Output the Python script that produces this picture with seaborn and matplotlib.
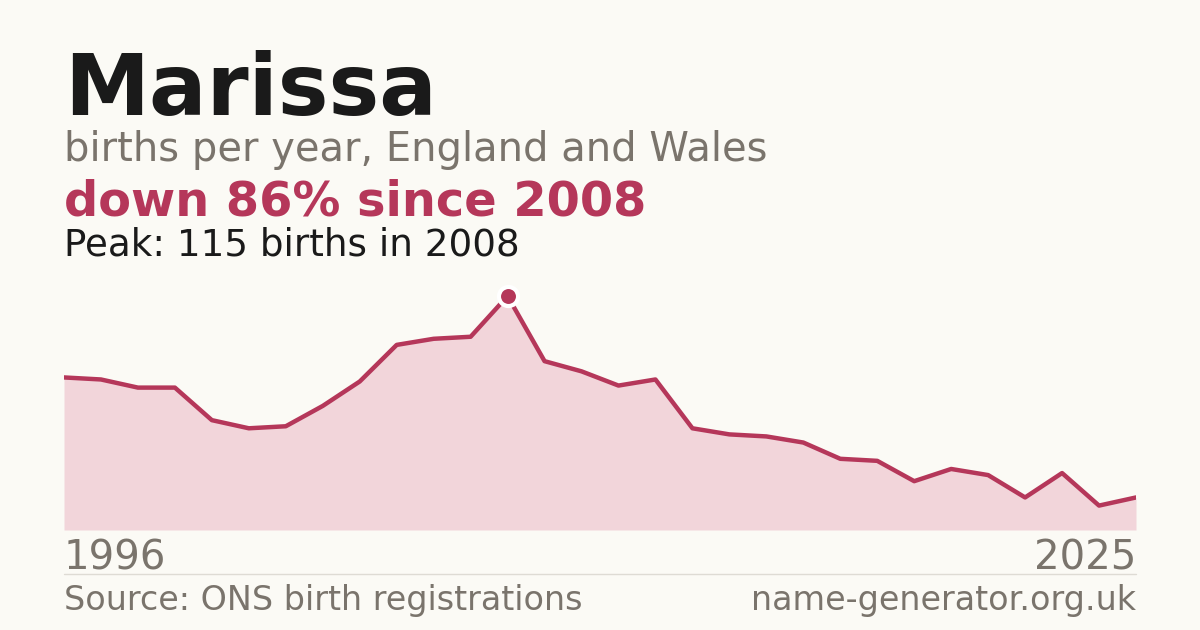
import seaborn as sns
import matplotlib.pyplot as plt
import pandas as pd

# data
years = list(range(1996, 2026))
births = [75, 74, 70, 70, 54, 50, 51, 61, 73, 91,
          94, 95, 115, 83, 78, 71, 74, 50, 47, 46,
          43, 35, 34, 24, 30, 27, 16, 28, 12, 16]
peak_year = 2008
peak_value = 115

bg = '#fbfaf5'
red = '#b5375a'
grey = '#7a746c'

sns.set_theme(style='white')
plt.rcParams['font.family'] = ['DejaVu Sans']

df = pd.DataFrame({'year': years, 'births': births})

fig = plt.figure(figsize=(12, 6.3), dpi=100, facecolor=bg)
ax = fig.add_axes([64 / 1200, 100 / 630, 1072 / 1200, 250 / 630])
ax.set_facecolor(bg)

ax.fill_between(df['year'], df['births'], 0, color='#f2d5da', linewidth=0)
sns.lineplot(data=df, x='year', y='births', ax=ax, color=red, linewidth=3.2)
ax.scatter([peak_year], [peak_value], s=190, color=red, edgecolor='white',
           linewidth=3, zorder=5, marker='o')

ax.set_xlim(years[0], years[-1])
ax.set_ylim(0, 122.9)
ax.axis('off')

# titles
fig.text(64 / 1200, 1 - 115 / 630, 'Marissa', fontsize=61.5, fontweight='bold',
         color='#1a1a1a', va='baseline')
fig.text(64 / 1200, 1 - 161 / 630, 'births per year, England and Wales',
         fontsize=28.8, color=grey, va='baseline')
fig.text(64 / 1200, 1 - 215 / 630, 'down 86% since 2008', fontsize=34.5,
         fontweight='bold', color=red, va='baseline')
fig.text(64 / 1200, 1 - 255 / 630, 'Peak: 115 births in 2008', fontsize=26.8,
         color='#1a1a1a', va='baseline')

# year labels
fig.text(64 / 1200, 1 - 569 / 630, str(years[0]), fontsize=29, color=grey,
         va='baseline')
fig.text(1136 / 1200, 1 - 569 / 630, str(years[-1]), fontsize=29, color=grey,
         va='baseline', ha='right')

# separator and footer
fig.add_artist(plt.Line2D([64 / 1200, 1136 / 1200], [1 - 574 / 630, 1 - 574 / 630],
                          color='#dedbd4', linewidth=1))
fig.text(64 / 1200, 1 - 610 / 630, 'Source: ONS birth registrations',
         fontsize=24, color=grey, va='baseline')
fig.text(1136 / 1200, 1 - 610 / 630, 'name-generator.org.uk', fontsize=24,
         color=grey, va='baseline', ha='right')

fig.savefig('out.png', dpi=100, facecolor=bg)
